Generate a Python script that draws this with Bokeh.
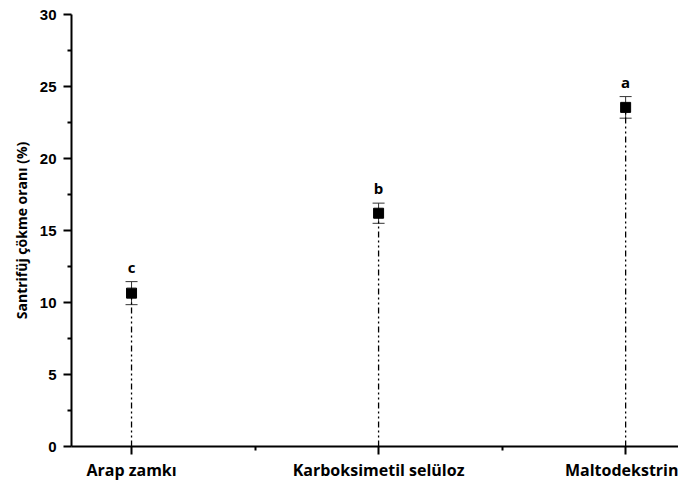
from bokeh.plotting import figure
from bokeh.models import ColumnDataSource, FixedTicker, Whisker, TeeHead, Range1d
from bokeh.core.properties import value
from bokeh.embed import file_html
from bokeh.resources import INLINE

categories = ["Arap zamkı", "Karboksimetil selüloz", "Maltodekstrin"]
means = [10.65, 16.2, 23.55]
errors = [0.8, 0.7, 0.75]
letters = ["c", "b", "a"]
y_ticks = [0, 5, 10, 15, 20, 25, 30]

xs = list(range(len(categories)))
src = ColumnDataSource(dict(
    x=xs, mean=means,
    lower=[m - e for m, e in zip(means, errors)],
    upper=[m + e for m, e in zip(means, errors)],
    zero=[0] * len(xs),
    letter=letters,
))

p = figure(width=678, height=483, output_backend="svg", toolbar_location=None,
           x_range=Range1d(-0.243, 2.214), y_range=Range1d(0, 30),
           min_border_left=71, min_border_right=0, min_border_top=14, min_border_bottom=37)
p.outline_line_color = None
p.grid.visible = False
p.background_fill_color = "white"

# drop lines
p.segment(x0="x", y0="zero", x1="x", y1="mean", source=src,
          line_color="black", line_width=1.3, line_dash="6 3 2 3 2 3")

w = Whisker(base="x", lower="lower", upper="upper", source=src,
            line_color="#333333", line_width=1,
            upper_head=TeeHead(size=12, line_color="#333333", line_width=1),
            lower_head=TeeHead(size=12, line_color="#333333", line_width=1))
p.add_layout(w)

p.scatter(x="x", y="mean", source=src, marker="square", size=10,
          fill_color="black", line_color="black")

p.text(x="x", y="upper", text="letter", source=src, y_offset=-5,
       text_align="center", text_baseline="bottom",
       text_font=value("Open Sans"), text_font_style="bold",
       text_font_size="15px", text_color="black")

# x axis
xa = p.xaxis[0]
xa.ticker = FixedTicker(ticks=xs, minor_ticks=[0.5, 1.5])
xa.major_label_overrides = {i: c for i, c in enumerate(categories)}
xa.major_label_text_font = "Open Sans"
xa.major_label_text_font_style = "bold"
xa.major_label_text_font_size = "16px"
xa.major_label_text_color = "black"
xa.major_label_standoff = 4
xa.axis_line_width = 2
xa.axis_line_color = "black"
xa.major_tick_in = 0
xa.major_tick_out = 8
xa.major_tick_line_width = 2
xa.minor_tick_in = 0
xa.minor_tick_out = 4
xa.minor_tick_line_width = 2

# y axis
ya = p.yaxis[0]
ya.ticker = FixedTicker(ticks=y_ticks, minor_ticks=[2.5, 7.5, 12.5, 17.5, 22.5, 27.5])
ya.axis_label = "Santrifüj çökme oranı (%)"
ya.axis_label_text_font = "Open Sans"
ya.axis_label_text_font_style = "bold"
ya.axis_label_text_font_size = "14px"
ya.axis_label_text_color = "black"
ya.axis_label_standoff = 6
ya.major_label_text_font = "Liberation Sans"
ya.major_label_text_font_style = "bold"
ya.major_label_text_font_size = "15px"
ya.major_label_text_color = "black"
ya.major_label_standoff = 7
ya.axis_line_width = 2
ya.axis_line_color = "black"
ya.major_tick_in = 0
ya.major_tick_out = 8
ya.major_tick_line_width = 2
ya.minor_tick_in = 0
ya.minor_tick_out = 4
ya.minor_tick_line_width = 2

open("out.html", "w").write(file_html(p, INLINE))
